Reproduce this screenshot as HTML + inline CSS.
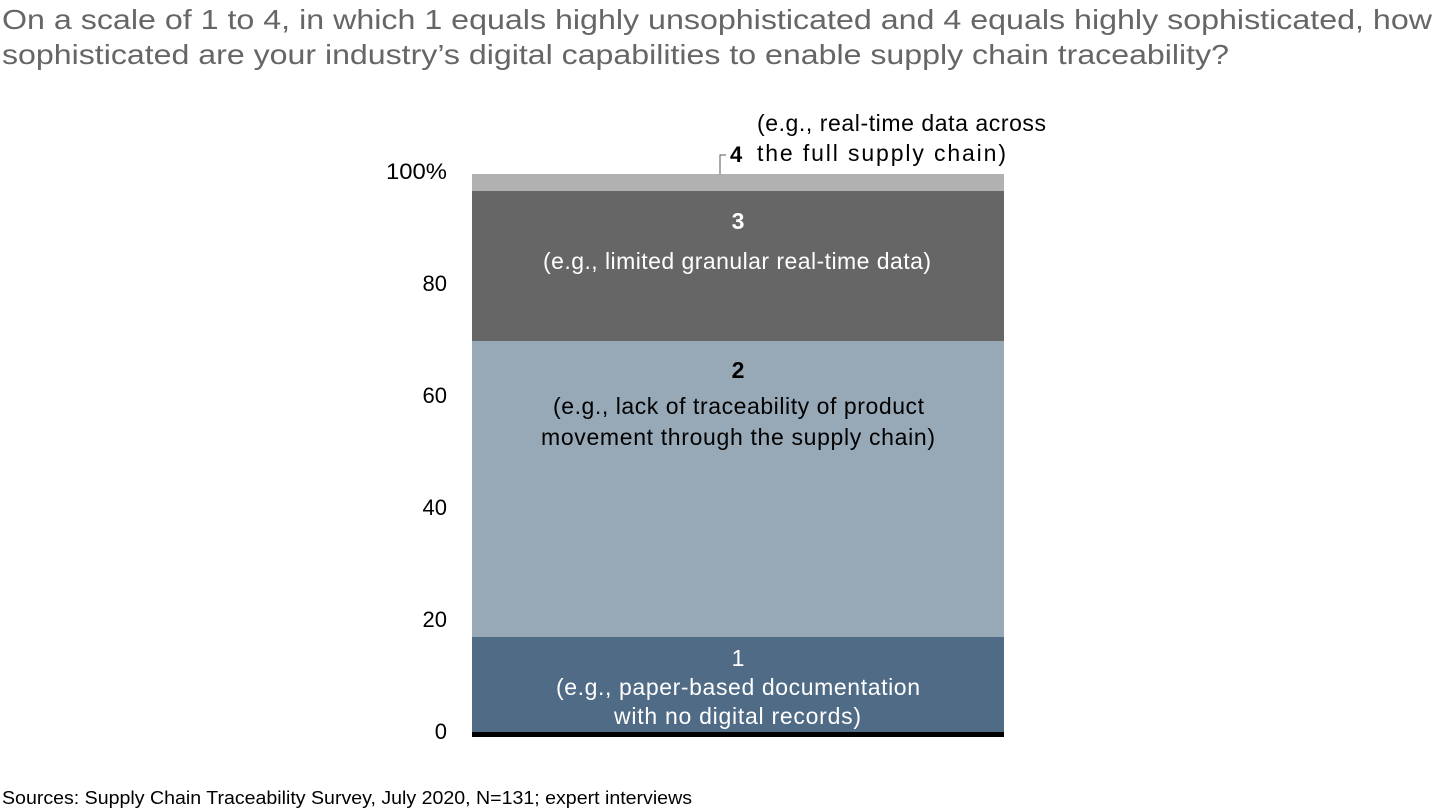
<!DOCTYPE html>
<html><head><meta charset="utf-8"><style>
html,body{margin:0;padding:0;background:#fff;}
body{width:1440px;height:810px;position:relative;overflow:hidden;}
</style></head><body>
<svg width="1440" height="810" style="position:absolute;left:0;top:0" font-family="Liberation Sans, Arial, sans-serif">
<text x="2" y="29" font-size="28" fill="#666" textLength="1430" lengthAdjust="spacingAndGlyphs">On a scale of 1 to 4, in which 1 equals highly unsophisticated and 4 equals highly sophisticated, how</text>
<text x="2" y="64" font-size="28" fill="#666" textLength="1227" lengthAdjust="spacingAndGlyphs">sophisticated are your industry’s digital capabilities to enable supply chain traceability?</text>
<rect x="472" y="174" width="532" height="17" fill="#b1b1b1"/>
<rect x="472" y="191" width="532" height="150" fill="#666666"/>
<rect x="472" y="341" width="532" height="296" fill="#97a9b7"/>
<rect x="472" y="637" width="532" height="96" fill="#4f6b86"/>
<rect x="472" y="732" width="532" height="5" fill="#000"/>
<g font-size="22" fill="#000" text-anchor="end">
<text x="447" y="179" textLength="61" lengthAdjust="spacingAndGlyphs">100%</text>
<text x="447" y="291">80</text>
<text x="447" y="403">60</text>
<text x="447" y="515">40</text>
<text x="447" y="627">20</text>
<text x="447" y="739">0</text>
</g>
<polyline points="720,174 720,155 726,155" fill="none" stroke="#555" stroke-width="1"/>
<text x="730" y="162" font-size="22" font-weight="bold" fill="#000">4</text>
<g font-size="23" lengthAdjust="spacingAndGlyphs">
<text x="757" y="131" fill="#000" textLength="289">(e.g., real-time data across</text>
<text x="757" y="161" fill="#000" textLength="249">the full supply chain)</text>
<text x="738" y="229" fill="#fff" font-weight="bold" text-anchor="middle">3</text>
<text x="543" y="269" fill="#fff" textLength="388">(e.g., limited granular real-time data)</text>
<text x="738" y="378" fill="#000" font-weight="bold" text-anchor="middle">2</text>
<text x="553" y="414" fill="#000" textLength="371">(e.g., lack of traceability of product</text>
<text x="541" y="445" fill="#000" textLength="394">movement through the supply chain)</text>
<text x="738" y="666" fill="#fff" text-anchor="middle">1</text>
<text x="556" y="695" fill="#fff" textLength="364">(e.g., paper-based documentation</text>
<text x="614" y="724" fill="#fff" textLength="247">with no digital records)</text>
</g>
<text x="2" y="804" font-size="18" fill="#000" textLength="690" lengthAdjust="spacingAndGlyphs">Sources: Supply Chain Traceability Survey, July 2020, N=131; expert interviews</text>
</svg>
</body></html>
